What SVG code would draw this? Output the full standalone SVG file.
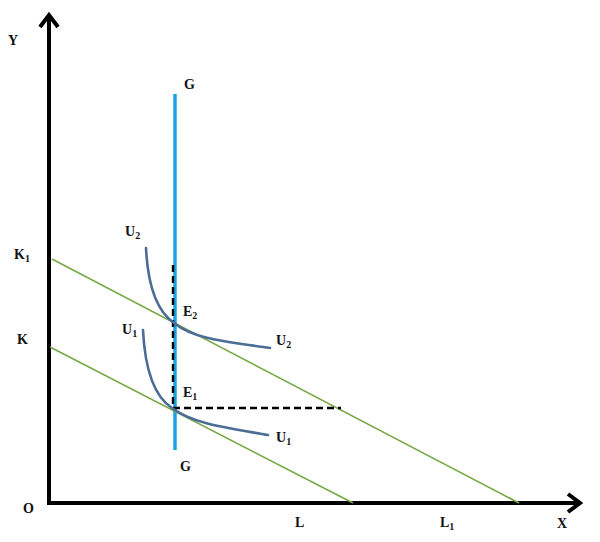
<svg xmlns="http://www.w3.org/2000/svg" width="600" height="542" viewBox="0 0 600 542">
<style>
text{font-family:"Liberation Serif","Times New Roman",serif;font-weight:bold;font-size:14px;fill:#111}
.sub{font-size:10px}
.budget{stroke:#77a845;stroke-width:1.6;fill:none}
.curve{stroke:#4a6c96;stroke-width:2.6;fill:none;stroke-linecap:round}
.dash{stroke:#000;stroke-width:2.4;stroke-dasharray:7,4;fill:none}
.axis{stroke:#000;stroke-width:4;fill:none}
</style>
<rect width="600" height="542" fill="#fff"/>
<g id="axes">
<path class="axis" d="M49,503 V18"/>
<path class="axis" d="M47,503 H578"/>
<path class="axis" d="M40,27 L49,15 L58,27" stroke-linejoin="miter"/>
<path class="axis" d="M568,494 L580,503 L568,512"/>
</g>
<g id="connectors">
<path id="g-line" d="M175,94 V450" stroke="#1ba3e0" stroke-width="3.5"/>
<path id="budget-K1L1" class="budget" d="M52,259 L519,503"/>
<path id="budget-KL" class="budget" d="M50,347 L353,503"/>
<path id="dash-v" class="dash" d="M173,265 V408"/>
<path id="dash-h" class="dash" d="M173,408 H341"/>
<path id="U2" class="curve" d="M146,248 C148,290 158,312 174,323 C195,340 230,342 270,348"/>
<path id="U1" class="curve" d="M143,330 C145,370 155,397 172,408 C193,424 228,428 268,435"/>
</g>
<g id="labels">
<text x="8" y="45">Y</text>
<text x="184" y="89">G</text>
<text x="180" y="471">G</text>
<text x="14" y="259">K<tspan class="sub" dy="3">1</tspan></text>
<text x="17" y="344">K</text>
<text x="23" y="513">O</text>
<text x="557" y="528">X</text>
<text x="295" y="527">L</text>
<text x="440" y="527">L<tspan class="sub" dy="3">1</tspan></text>
<text x="125" y="236">U<tspan class="sub" dy="3">2</tspan></text>
<text x="276" y="345">U<tspan class="sub" dy="3">2</tspan></text>
<text x="122" y="334">U<tspan class="sub" dy="3">1</tspan></text>
<text x="276" y="442">U<tspan class="sub" dy="3">1</tspan></text>
<text x="183" y="316">E<tspan class="sub" dy="3">2</tspan></text>
<text x="183" y="397">E<tspan class="sub" dy="3">1</tspan></text>
</g>
</svg>
